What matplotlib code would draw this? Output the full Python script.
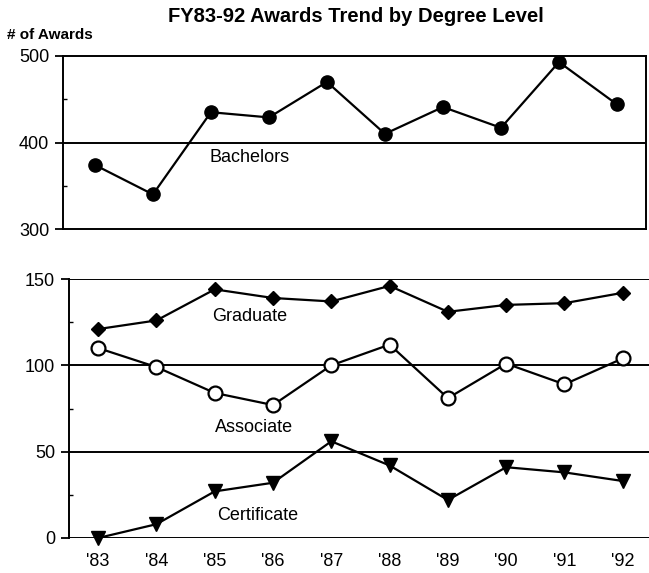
import numpy as np
import matplotlib.pyplot as plt
from matplotlib.ticker import MultipleLocator

plt.rcParams['font.family'] = ['Liberation Sans', 'DejaVu Sans']

# dane
lata = [83, 84, 85, 86, 87, 88, 89, 90, 91, 92]
etykiety_lat = ["'83", "'84", "'85", "'86", "'87", "'88", "'89", "'90", "'91", "'92"]
bachelors = [374, 340, 435, 429, 470, 410, 441, 417, 493, 444]
graduate = [121, 126, 144, 139, 137, 146, 131, 135, 136, 142]
associate = [110, 99, 84, 77, 100, 112, 81, 101, 89, 104]
certificate = [0, 8, 27, 32, 56, 42, 22, 41, 38, 33]

W, H = 649, 573
fig = plt.figure(figsize=(W / 100, H / 100), dpi=100)

def rect(x0, y0, x1, y1):
    return [x0 / W, 1 - y1 / H, (x1 - x0) / W, (y1 - y0) / H]

ax1 = fig.add_axes(rect(63, 56, 646, 229))
ax2 = fig.add_axes(rect(69, 279, 649, 538))

# gorny panel - Bachelors
ax1.axhline(400, color='black', lw=1.4, zorder=1)
ax1.plot(lata, bachelors, color='black', lw=1.6, marker='o', markersize=9.5,
         markerfacecolor='black', zorder=3)
ax1.set_xlim(82.45, 92.5)
ax1.set_ylim(300, 500)
ax1.set_yticks([300, 400, 500])
ax1.yaxis.set_minor_locator(MultipleLocator(50))
ax1.set_xticks([])
for s in ax1.spines.values():
    s.set_linewidth(1.4)
ax1.tick_params(axis='y', which='major', length=6, width=1.3, labelsize=13, pad=4)
ax1.tick_params(axis='y', which='minor', length=3, width=1, direction='in')
ax1.text(85.67, 383, "Bachelors", fontsize=13, ha='center', va='center')

# dolny panel
for g in [0, 50, 100, 150]:
    ax2.axhline(g, color='black', lw=1.4, zorder=1)
ax2.plot(lata, graduate, color='black', lw=1.6, marker='D', markersize=7.5,
         markerfacecolor='black', zorder=3)
ax2.plot(lata, associate, color='black', lw=1.6, marker='o', markersize=10,
         markerfacecolor='white', markeredgewidth=1.6, zorder=3)
ax2.plot(lata, certificate, color='black', lw=1.6, marker='v', markersize=9.5,
         markerfacecolor='black', zorder=3, clip_on=False)
ax2.set_xlim(82.5, 92.45)
ax2.set_ylim(0, 150)
ax2.set_yticks([0, 50, 100, 150])
ax2.yaxis.set_minor_locator(MultipleLocator(25))
ax2.set_xticks(lata)
ax2.set_xticklabels(etykiety_lat)
for nazwa in ['top', 'right', 'bottom']:
    ax2.spines[nazwa].set_visible(False)
ax2.spines['left'].set_linewidth(1.4)
ax2.tick_params(axis='y', which='major', length=6, width=1.3, labelsize=13, pad=4)
ax2.tick_params(axis='y', which='minor', length=3, width=1, direction='in')
ax2.tick_params(axis='x', length=0, labelsize=13, pad=11)
ax2.text(85.6, 128, "Graduate", fontsize=13, ha='center', va='center')
ax2.text(85.67, 64, "Associate", fontsize=13, ha='center', va='center')
ax2.text(85.73, 13.3, "Certificate", fontsize=13, ha='center', va='center')

fig.text(356 / W, 1 - 22 / H, "FY83-92 Awards Trend by Degree Level", fontsize=14.5,
         fontweight='bold', ha='center', va='baseline')
fig.text(7 / W, 1 - 39 / H, "# of Awards", fontsize=11, fontweight='bold',
         ha='left', va='baseline')

fig.savefig("out.png", dpi=100)
